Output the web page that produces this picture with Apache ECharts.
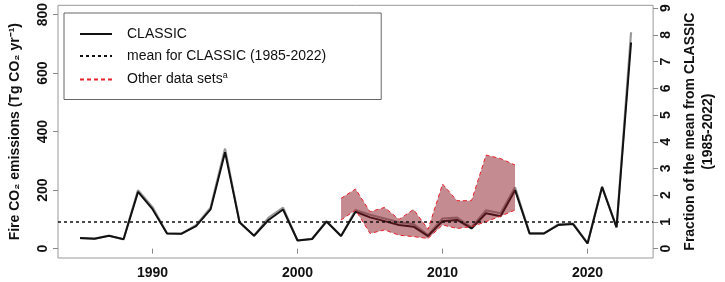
<!DOCTYPE html>
<html>
<head>
<meta charset="utf-8">
<script src="https://cdn.jsdelivr.net/npm/echarts@6/dist/echarts.min.js"></script>
<style>
  html, body { margin: 0; padding: 0; background: #fff; }
  #chart { width: 725px; height: 282px; }
</style>
</head>
<body>
<div id="chart"></div>
<script>
// CLASSIC fire emissions, 1985-2023
var years = [1985, 1986, 1987, 1988, 1989, 1990, 1991, 1992, 1993, 1994,
             1995, 1996, 1997, 1998, 1999, 2000, 2001, 2002, 2003, 2004,
             2005, 2006, 2007, 2008, 2009, 2010, 2011, 2012, 2013, 2014,
             2015, 2016, 2017, 2018, 2019, 2020, 2021, 2022, 2023];
var classic = [36, 34, 44, 32, 194, 135, 52, 51, 77, 134,
               330, 90, 44, 98, 134, 28, 33, 93, 43, 126,
               107, 94, 81, 75, 43, 94, 98, 69, 121, 111,
               200, 52, 52, 81, 84, 18, 211, 73, 705];
// upper edge of the grey spread around CLASSIC
var classicHi = [36, 34, 44, 32, 200, 142, 52, 51, 80, 140,
                 342, 90, 44, 106, 140, 28, 33, 93, 43, 132,
                 116, 103, 90, 84, 46, 103, 106, 73, 131, 121,
                 210, 52, 52, 84, 86, 18, 211, 73, 740];
// other data sets range
var otherYears = [2003, 2004, 2005, 2006, 2007, 2008, 2009, 2010, 2011, 2012, 2013, 2014, 2015];
var otherLow = [98, 132, 52, 64, 46, 41, 35, 81, 69, 75, 92, 111, 132];
var otherHigh = [172, 204, 126, 141, 100, 134, 66, 221, 164, 164, 320, 308, 286];

var leftTicks = [0, 200, 400, 600, 800];
var rightTicks = [0, 1, 2, 3, 4, 5, 6, 7, 8, 9];
var xTicks = [1990, 2000, 2010, 2020];

// mean 1985-2022
var sum = 0, n = 0;
years.forEach(function (y, i) { if (y <= 2022) { sum += classic[i]; n++; } });
var mean = sum / n;

var yMin = -32, yMax = 832;
var xMin = 1983.48, xMax = 2024.52;

function pairs(xs, ys) { return xs.map(function (x, i) { return [x, ys[i]]; }); }

var font = 'Liberation Sans, Arial, sans-serif';
var red = '#e8202a';
var chart = echarts.init(document.getElementById('chart'));
var option = {
    animation: false,
    grid: { left: 56, right: 64, top: 5, bottom: 24, show: true, borderColor: '#999', borderWidth: 1 },
    legend: {
        orient: 'vertical',
        left: 64, top: 13,
        padding: [14, 55, 13, 15],
        itemGap: 8,
        itemWidth: 32, itemHeight: 14,
        borderColor: '#666', borderWidth: 1,
        itemStyle: { opacity: 0 },
        data: ['CLASSIC', 'mean for CLASSIC (1985-2022)', 'Other data sets'],
        formatter: function (name) {
            return name === 'Other data sets' ? '{t|Other data sets}{s|a}' : '{t|' + name + '}';
        },
        textStyle: {
            fontFamily: font, color: '#111', padding: [0, 0, 0, 10],
            rich: {
                t: { fontFamily: font, fontSize: 14, color: '#111' },
                s: { fontFamily: font, fontSize: 9, color: '#111', padding: [0, 0, 8, 0] }
            }
        }
    },
    xAxis: {
        type: 'value', min: xMin, max: xMax,
        splitLine: { show: false },
        axisLine: { show: false },
        axisTick: { show: true, length: 5, lineStyle: { color: '#888' }, customValues: xTicks },
        axisLabel: {
            customValues: xTicks, formatter: function (v) { return String(v); },
            fontFamily: font, fontWeight: 'bold', fontSize: 14, color: '#111', margin: 8
        }
    },
    yAxis: [{
        type: 'value', min: yMin, max: yMax,
        splitLine: { show: false },
        axisLine: { show: false },
        axisTick: { show: true, length: 5, lineStyle: { color: '#888' }, customValues: leftTicks },
        axisLabel: { customValues: leftTicks, rotate: 90, fontFamily: font, fontWeight: 'bold', fontSize: 14, color: '#111', margin: 8 },
        name: 'Fire CO\u2082 emissions (Tg CO\u2082 yr\u207B\u00B9)',
        nameLocation: 'middle', nameRotate: 90, nameGap: 36,
        nameTextStyle: { fontFamily: font, fontWeight: 'bold', fontSize: 14, color: '#111' }
    }, {
        type: 'value', position: 'right', min: yMin / mean, max: yMax / mean,
        splitLine: { show: false },
        axisLine: { show: false },
        axisTick: { show: true, length: 5, lineStyle: { color: '#888' }, customValues: rightTicks },
        axisLabel: { customValues: rightTicks, rotate: 90, fontFamily: font, fontWeight: 'bold', fontSize: 14, color: '#111', margin: 6 },
        name: 'Fraction of the mean from CLASSIC\n(1985-2022)',
        nameLocation: 'middle', nameRotate: 90, nameGap: 22,
        nameTextStyle: { fontFamily: font, fontWeight: 'bold', fontSize: 14, color: '#111', lineHeight: 18 }
    }],
    series: [{
        name: 'spread', type: 'line', symbol: 'none',
        data: pairs(years, classicHi),
        lineStyle: { color: '#999', width: 2.2 }, z: 2
    }, {
        name: 'CLASSIC', type: 'line', symbol: 'none',
        data: pairs(years, classic),
        lineStyle: { color: '#111', width: 2 }, itemStyle: { color: '#111' }, z: 3
    }, {
        name: 'mean for CLASSIC (1985-2022)', type: 'line', symbol: 'none',
        data: [],
        lineStyle: { color: '#111', width: 1.5, type: [3, 3] }, itemStyle: { color: '#111' },
        markLine: {
            silent: true, symbol: 'none', label: { show: false },
            lineStyle: { color: '#111', width: 1.5, type: [3, 3] },
            data: [{ yAxis: mean }]
        }
    }, {
        // shaded range between the other data sets
        name: 'otherFill', type: 'custom', z: 4,
        data: [[otherYears[0], otherLow[0]]],
        renderItem: function (params, api) {
            var pts = [];
            for (var i = 0; i < otherYears.length; i++) pts.push(api.coord([otherYears[i], otherHigh[i]]));
            for (var j = otherYears.length - 1; j >= 0; j--) pts.push(api.coord([otherYears[j], otherLow[j]]));
            return { type: 'polygon', shape: { points: pts }, style: { fill: 'rgba(137,25,35,0.5)' } };
        }
    }, {
        name: 'otherLow', type: 'line', symbol: 'none',
        data: pairs(otherYears, otherLow),
        lineStyle: { color: red, width: 1, type: [4, 3] }, z: 5
    }, {
        name: 'Other data sets', type: 'line', symbol: 'none',
        data: pairs(otherYears, otherHigh),
        lineStyle: { color: red, width: 1, type: [4, 3] }, itemStyle: { color: red }, z: 5
    }]
};
chart.setOption(option);
</script>
</body>
</html>
